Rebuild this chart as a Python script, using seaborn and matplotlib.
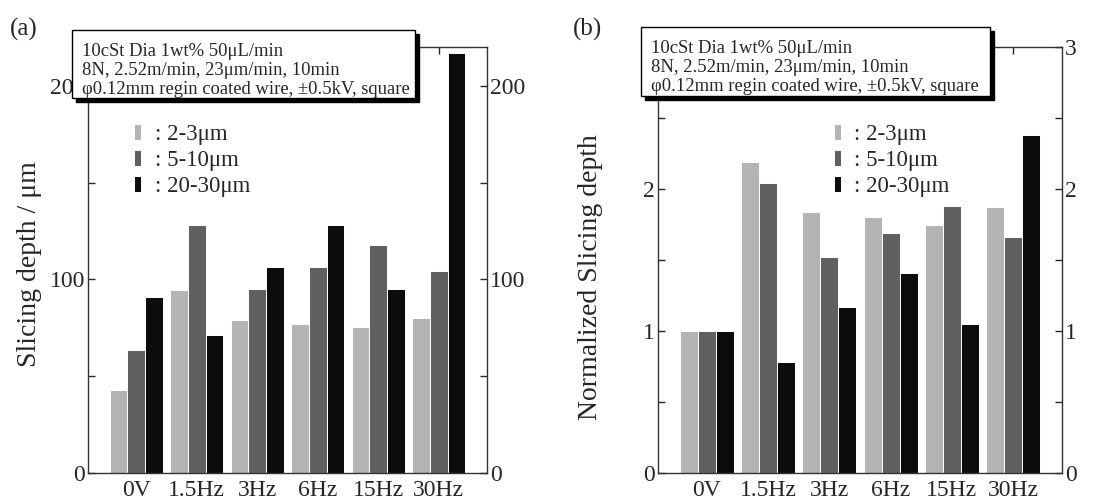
import numpy as np
import pandas as pd
import seaborn as sns
from matplotlib import pyplot as plt
from matplotlib.patches import Rectangle

conditions = ['0V', '1.5Hz', '3Hz', '6Hz', '15Hz', '30Hz']
sizes = ['2-3μm', '5-10μm', '20-30μm']

# slicing depth in um
depth_2_3 = [43, 94.5, 79, 77, 75.5, 80]
depth_5_10 = [63.5, 128, 95, 106.5, 118, 104.5]
depth_20_30 = [91, 71.5, 106.5, 128, 95, 217]

# normalized by the 0V value, panel (b)
norm_2_3 = [1.0, 2.19, 1.84, 1.80, 1.75, 1.87]
norm_5_10 = [1.0, 2.04, 1.52, 1.69, 1.88, 1.66]
norm_20_30 = [1.0, 0.78, 1.17, 1.41, 1.05, 2.38]

info_lines = ['10cSt Dia 1wt% 50μL/min',
              '8N, 2.52m/min, 23μm/min, 10min',
              'φ0.12mm regin coated wire, ±0.5kV, square']

colors = ['#b4b4b4', '#606060', '#0c0c0c']


def make_df(a, b, c):
    rows = []
    for vals, s in zip([a, b, c], sizes):
        for cond, v in zip(conditions, vals):
            rows.append({'cond': cond, 'size': s, 'val': v})
    return pd.DataFrame(rows)


sns.set_style('ticks')
plt.rcParams['font.family'] = ['Liberation Serif', 'DejaVu Serif']

fig = plt.figure(figsize=(11.1, 5.01), dpi=100)
W, H = 1110, 501


def px_axes(x0, x1, y0, y1):
    return fig.add_axes([x0 / W, 1 - y1 / H, (x1 - x0) / W, (y1 - y0) / H])


def draw_panel(ax, df, ylim, yticks, ylabels, ylabel, lab_x, lab_y, leg_x):
    sns.barplot(data=df, x='cond', y='val', hue='size', palette=colors,
                width=0.88, saturation=1, edgecolor='white', linewidth=0.7,
                ax=ax, errorbar=None)
    ax.set_xlim(-0.8, 5.8)
    ax.set_ylim(*ylim)
    ax.set_yticks(yticks)
    ax.set_yticklabels(ylabels)
    ax.tick_params(axis='y', direction='in', length=5, width=1, left=True,
                   right=True, labelleft=True, labelright=True, labelsize=17,
                   pad=2)
    ax.tick_params(axis='x', direction='in', length=5, width=1, top=True,
                   bottom=False, labelsize=17, pad=5)
    for sp in ax.spines.values():
        sp.set_visible(True)
        sp.set_linewidth(1.0)
        sp.set_color('#333333')
    ax.set_xlabel('')
    ax.set_ylabel(ylabel, fontsize=20)
    ax.yaxis.set_label_coords(lab_x, lab_y)
    h, l = ax.get_legend_handles_labels()
    ax.legend(h, [': ' + s for s in l], loc='upper left',
              bbox_to_anchor=(leg_x, 0.82), frameon=False, fontsize=16.5,
              handlelength=0.3, handleheight=0.75, handletextpad=0.6,
              labelspacing=0.2, borderaxespad=0, borderpad=0)


ax_a = px_axes(88, 487, 47, 473)
ax_b = px_axes(658, 1062, 47, 473)

draw_panel(ax_a, make_df(depth_2_3, depth_5_10, depth_20_30), (0, 220),
           [0, 50, 100, 150, 200], ['0', '', '100', '', '200'],
           'Slicing depth / μm', -0.115, 0.49, 0.115)
draw_panel(ax_b, make_df(norm_2_3, norm_5_10, norm_20_30), (0, 3),
           [0, 0.5, 1, 1.5, 2, 2.5, 3], ['0', '', '1', '', '2', '', '3'],
           'Normalized Slicing depth', -0.135, 0.46, 0.435)
# left-side "3" sits under the info box anyway
ax_b.yaxis.get_major_ticks()[-1].label1.set_visible(False)


def info_box(x0, x1, y0, y1):
    # drop shadow then white box, in figure pixels
    fig.patches.append(Rectangle(((x0 + 4) / W, 1 - (y1 + 4) / H),
                                 (x1 - x0) / W, (y1 - y0) / H,
                                 transform=fig.transFigure, facecolor='black',
                                 edgecolor='black', zorder=10))
    fig.patches.append(Rectangle((x0 / W, 1 - y1 / H), (x1 - x0) / W,
                                 (y1 - y0) / H, transform=fig.transFigure,
                                 facecolor='white', edgecolor='black',
                                 linewidth=1.0, zorder=11))
    for i, line in enumerate(info_lines):
        fig.text((x0 + 10) / W, 1 - (y0 + 26 + 19 * i) / H, line,
                 fontsize=13.4, va='baseline', ha='left', zorder=12)


info_box(72, 415, 30, 98)
info_box(641, 990, 27, 96)

fig.text(10 / W, 1 - 29 / H, '(a)', fontsize=18, va='center', ha='left')
fig.text(573 / W, 1 - 29 / H, '(b)', fontsize=18, va='center', ha='left')

plt.savefig('out.png', dpi=100)
